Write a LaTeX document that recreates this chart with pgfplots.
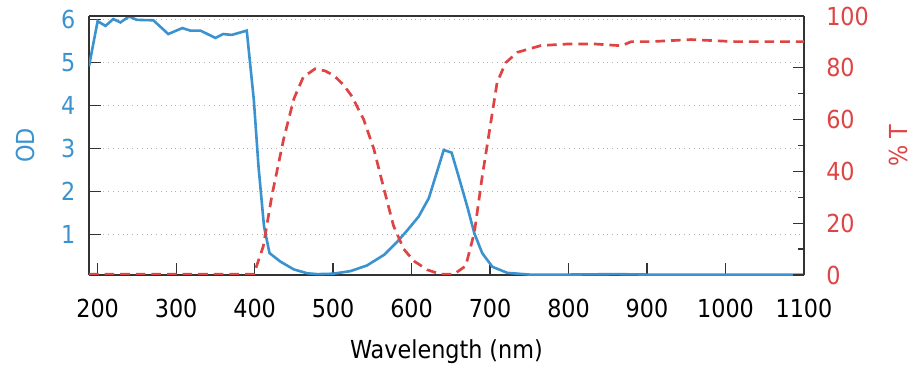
\documentclass[border=0pt]{standalone}
\usepackage{pgfplots}
\pgfplotsset{compat=1.18}
\usepackage{fontspec}
\setmainfont{DejaVu Sans Condensed}
\definecolor{odblue}{RGB}{58,147,207}
\definecolor{tred}{RGB}{222,68,68}
\newcommand{\lblfont}{\fontsize{12.4}{15}\selectfont}
\begin{document}
\begin{tikzpicture}
\lblfont
\useasboundingbox (-44.5pt,-52.5pt) rectangle (416.5pt,137.5pt);
\begin{axis}[
  at={(0,0)}, anchor=south west,
  scale only axis, width=357.5pt, height=129.5pt,
  xmin=189, xmax=1100, ymin=0.06, ymax=6.09,
  xtick={200,300,...,1100},
  ytick={1,2,3,4,5,6},
  axis y line*=left,
  axis x line*=bottom,
  axis line style={black!80, line width=0.6pt},
  major tick length=6pt,
  tick style={black!80, line width=0.6pt},
  tick align=inside,
  ymajorgrids,
  grid style={gray!60, dotted, line width=0.5pt},
  /pgf/number format/assume math mode=true,
  /pgf/number format/1000 sep={},
  yticklabel style={odblue, font=\lblfont, xshift=-2.5pt},
  xticklabel style={black, font=\lblfont, yshift=-7.5pt},
  ylabel={OD}, ylabel style={odblue, font=\lblfont, at={(axis description cs:-0.0895,0.5)}, anchor=center},
  xlabel={Wavelength (nm)}, xlabel style={black, font=\lblfont, at={(axis description cs:0.5,-0.297)}, anchor=center},
]
\addplot[odblue, line width=1.3pt] coordinates {
(189,4.92) (200,5.97) (210,5.86) (220,6.02) (229,5.94) (240,6.08) (250,6.00)
(271,5.99) (290,5.67) (308,5.81) (318,5.75) (331,5.75) (350,5.58) (360,5.67)
(371,5.65) (390,5.75) (399,4.14) (405,2.58) (412,1.19) (419,0.57) (433,0.37)
(450,0.19) (467,0.10) (480,0.08) (500,0.09) (522,0.15) (543,0.28) (565,0.53)
(582,0.84) (595,1.11) (609,1.42) (622,1.85) (641,2.97) (651,2.91) (660,2.35)
(671,1.65) (680,1.03) (690,0.57) (703,0.25) (722,0.11) (750,0.07) (800,0.07)
(860,0.08) (900,0.07) (1100,0.07)
};
\end{axis}
\begin{axis}[
  at={(0,0)}, anchor=south west,
  scale only axis, width=357.5pt, height=129.5pt,
  xmin=189, xmax=1100, ymin=0, ymax=100,
  axis x line=none,
  axis y line*=right,
  hide x axis,
  ytick={0,20,...,100},
  minor y tick num=1,
  axis line style={black!80, line width=0.6pt},
  major tick length=5.3pt, minor tick length=3pt,
  tick style={black!80, line width=0.6pt},
  tick align=inside,
  /pgf/number format/assume math mode=true,
  yticklabel style={tred, font=\lblfont, xshift=6.8pt},
  ylabel={\% T}, ylabel style={tred, font=\lblfont, at={(axis description cs:1.1315,0.5)}, anchor=center},
]
\addplot[tred, line width=1.35pt, dash pattern=on 4.8pt off 3pt] coordinates {
(189,0.3) (399,0.3) (411,11) (422,30.6) (437,52.5) (450,68) (462,76.4) (477,79.6)
(490,78.8) (501,77) (513,73.5) (524,69) (539,60) (552,48.6) (565,33) (577,19)
(590,10) (603,5.4) (620,2) (637,0.3) (654,0.3) (669,3.5) (680,16.4) (690,38)
(701,59) (709,74.4) (720,82) (735,86) (765,88.6) (800,89.2) (833,89.2) (863,88.6)
(868,88.6) (880,90.1) (905,90.1) (956,90.9) (1012,90.1) (1100,90.1)
};
\end{axis}
\draw[black!80, line width=0.6pt] (0,129.5pt) -- (357.5pt,129.5pt);
\end{tikzpicture}
\end{document}
